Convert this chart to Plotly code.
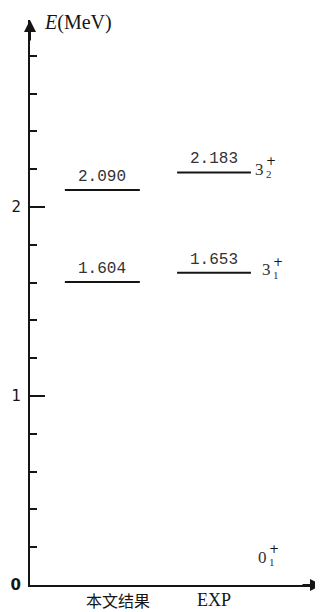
import plotly.graph_objects as go

# ---- data ----
categories = ["本文结果", "EXP"]
calc_levels = [1.604, 2.090]
calc_labels = ["1.604", "2.090"]
exp_levels = [1.653, 2.183]
exp_labels = ["1.653", "2.183"]
exp_spin = ["3", "3"]
exp_spin_index = ["1", "2"]
ground_spin = "0"
ground_index = "1"
y_tickvals = [0, 1, 2]
y_ticktext = ["<b>0</b>", "1", "2"]

# ---- layout constants ----
col_x = {"本文结果": (1.19, 3.75), "EXP": (5.02, 7.54)}
ink = "#151515"

fig = go.Figure()
annotations = []

def add_level(cat, e, label):
    x0, x1 = col_x[cat]
    fig.add_trace(go.Scatter(x=[x0, x1], y=[e, e], mode="lines",
                             line=dict(color=ink, width=2), showlegend=False,
                             hoverinfo="skip"))
    annotations.append(dict(x=(x0 + x1) / 2, y=e, text=label, showarrow=False,
                            xanchor="center", yanchor="bottom", yshift=2,
                            font=dict(family="Liberation Mono", size=16, color="#333")))

for e, lab in zip(calc_levels, calc_labels):
    add_level("本文结果", e, lab)
for e, lab in zip(exp_levels, exp_labels):
    add_level("EXP", e, lab)

def add_spin(x, e, main, idx, xshift):
    annotations.append(dict(x=x, y=e, text=main, showarrow=False, xanchor="left",
                            yanchor="middle", xshift=xshift, yshift=3,
                            font=dict(family="Liberation Serif", size=17, color="#333")))
    annotations.append(dict(x=x, y=e, text="+", showarrow=False, xanchor="left",
                            yanchor="middle", xshift=xshift + 11, yshift=11,
                            font=dict(family="DejaVu Sans", size=12, color=ink)))
    annotations.append(dict(x=x, y=e, text=idx, showarrow=False, xanchor="left",
                            yanchor="middle", xshift=xshift + 11, yshift=-2,
                            font=dict(family="Liberation Serif", size=11, color="#333")))

add_spin(col_x["EXP"][1], exp_levels[0], exp_spin[0], exp_spin_index[0], 9)
add_spin(col_x["EXP"][1], exp_levels[1], exp_spin[1], exp_spin_index[1], 2)
add_spin(7.72, 0.13, ground_spin, ground_index, 0)

# category labels
annotations.append(dict(x=(col_x["本文结果"][0] + col_x["本文结果"][1]) / 2 + 0.55, y=0,
                        text=categories[0], showarrow=False, xanchor="center",
                        yanchor="top", yshift=-1,
                        font=dict(family="Noto Sans CJK SC", size=16, color=ink)))
annotations.append(dict(x=(col_x["EXP"][0] + col_x["EXP"][1]) / 2, y=0,
                        text=categories[1], showarrow=False, xanchor="center",
                        yanchor="top", yshift=-3,
                        font=dict(family="Liberation Serif", size=18, color=ink)))

# axis title
annotations.append(dict(x=0.04, y=1.0, xref="paper", yref="paper",
                        text="<i>E</i>(MeV)", showarrow=False, xanchor="left",
                        yanchor="middle", yshift=-2,
                        font=dict(family="Liberation Serif", size=20, color=ink)))

# axis arrows
annotations.append(dict(x=0, y=1, xref="paper", yref="paper", ax=0, ay=22,
                        showarrow=True, arrowhead=2, arrowsize=1.2, arrowwidth=2,
                        arrowcolor=ink, text=""))
annotations.append(dict(x=1, y=0, xref="paper", yref="paper", ax=-22, ay=0,
                        showarrow=True, arrowhead=2, arrowsize=1.2, arrowwidth=2,
                        arrowcolor=ink, text=""))

fig.update_layout(
    width=315, height=604,
    margin=dict(l=22, r=0, t=12, b=27),
    paper_bgcolor="white", plot_bgcolor="white",
    annotations=annotations,
    xaxis=dict(range=[0, 10], showline=True, linecolor=ink, linewidth=2,
               showgrid=False, zeroline=False, showticklabels=False, ticks=""),
    yaxis=dict(range=[0, 2.99], showline=True, linecolor=ink, linewidth=2,
               showgrid=False, zeroline=False,
               tickmode="array", tickvals=y_tickvals, ticktext=y_ticktext,
               ticks="inside", ticklen=15, tickwidth=1.5, tickcolor=ink,
               tickfont=dict(family="DejaVu Sans", size=15, color=ink),
               ticklabelstandoff=4,
               minor=dict(tickmode="linear", tick0=0, dtick=0.2, ticks="inside",
                          ticklen=7, tickwidth=1.5, tickcolor=ink, showgrid=False)),
)

fig.write_html("out.html")
